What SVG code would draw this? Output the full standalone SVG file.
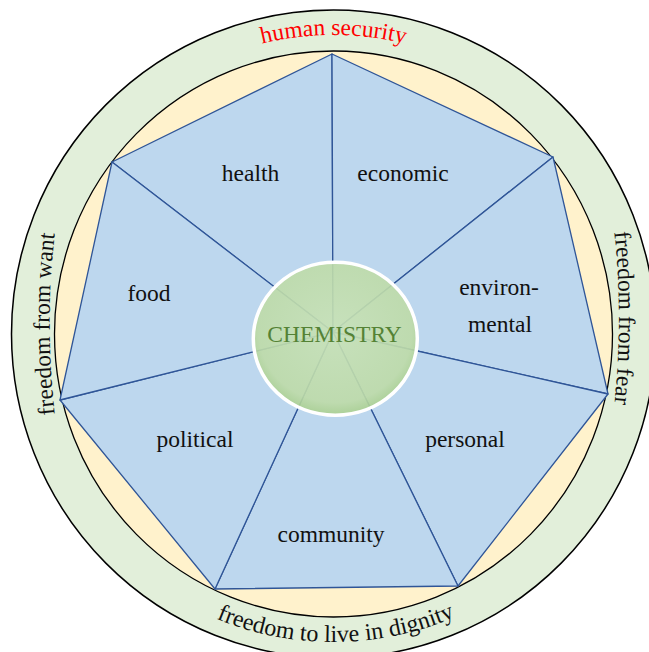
<svg xmlns="http://www.w3.org/2000/svg" width="649" height="652" viewBox="0 0 649 652">
  <style>
    .lbl { font-family: "Liberation Serif", "Times New Roman", serif; font-size: 23.5px; fill: #111111; text-anchor: middle; }
    .ring { font-family: "Liberation Serif", "Times New Roman", serif; font-size: 23.5px; fill: #111111; text-anchor: middle; }
    .sector { fill: #bdd7ee; stroke: #2f5597; stroke-width: 1.3; stroke-linejoin: round; }
  </style>
  <defs>
    <path id="pTop" d="M 34.5,334 A 299 299 0 0 1 632.5,334"/>
    <path id="pLeft" d="M 65,480 A 800 800 0 0 1 65,168"/>
    <path id="pRight" d="M 603,159 A 800 800 0 0 1 603,477"/>
    <path id="pBottom" d="M 25.5,334 A 308 308 0 0 0 641.5,334"/>
    <radialGradient id="chemFill" cx="50%" cy="45%" r="55%">
      <stop offset="0" stop-color="#c8e2b6"/>
      <stop offset="0.85" stop-color="#bedba8"/>
      <stop offset="1" stop-color="#a9cf8e"/>
    </radialGradient>
  </defs>

  <g id="rings">
    <ellipse cx="333.5" cy="334" rx="322" ry="324" fill="#e2efda" stroke="#000000" stroke-width="1.5"/>
    <ellipse cx="333.5" cy="334" rx="279" ry="283" fill="#fff2cc" stroke="#000000" stroke-width="1.3"/>
    <text class="ring" style="fill:#ff0000"><textPath href="#pTop" startOffset="50%">human security</textPath></text>
    <text class="ring"><textPath href="#pLeft" startOffset="50%">freedom from want</textPath></text>
    <text class="ring"><textPath href="#pRight" startOffset="50%">freedom from fear</textPath></text>
    <text class="ring" style="font-size:24px"><textPath href="#pBottom" startOffset="486">freedom to live in dignity</textPath></text>
  </g>

  <g id="health">
    <polygon class="sector" points="112,162 332,54 333,332"/>
    <text class="lbl" x="250.5" y="181">health</text>
  </g>
  <g id="economic">
    <polygon class="sector" points="332,54 553,157 333,332"/>
    <text class="lbl" x="403" y="181">economic</text>
  </g>
  <g id="environmental">
    <polygon class="sector" points="553,157 608,394 333,332"/>
    <text class="lbl" x="499" y="295">environ-</text>
    <text class="lbl" x="500" y="332">mental</text>
  </g>
  <g id="personal">
    <polygon class="sector" points="608,394 458,586 333,332"/>
    <text class="lbl" x="465" y="447">personal</text>
  </g>
  <g id="community">
    <polygon class="sector" points="458,586 215,589 333,332"/>
    <text class="lbl" x="331" y="542">community</text>
  </g>
  <g id="political">
    <polygon class="sector" points="215,589 60,400 333,332"/>
    <text class="lbl" x="195" y="447">political</text>
  </g>
  <g id="food">
    <polygon class="sector" points="60,400 112,162 333,332"/>
    <text class="lbl" x="149" y="301">food</text>
  </g>

  <g id="chemistry">
    <ellipse cx="335.3" cy="338.8" rx="82" ry="76.5" fill="url(#chemFill)" fill-opacity="0.9" stroke="#ffffff" stroke-width="3.5"/>
    <text class="lbl" x="334.5" y="342" style="fill:#548235">CHEMISTRY</text>
  </g>
</svg>
